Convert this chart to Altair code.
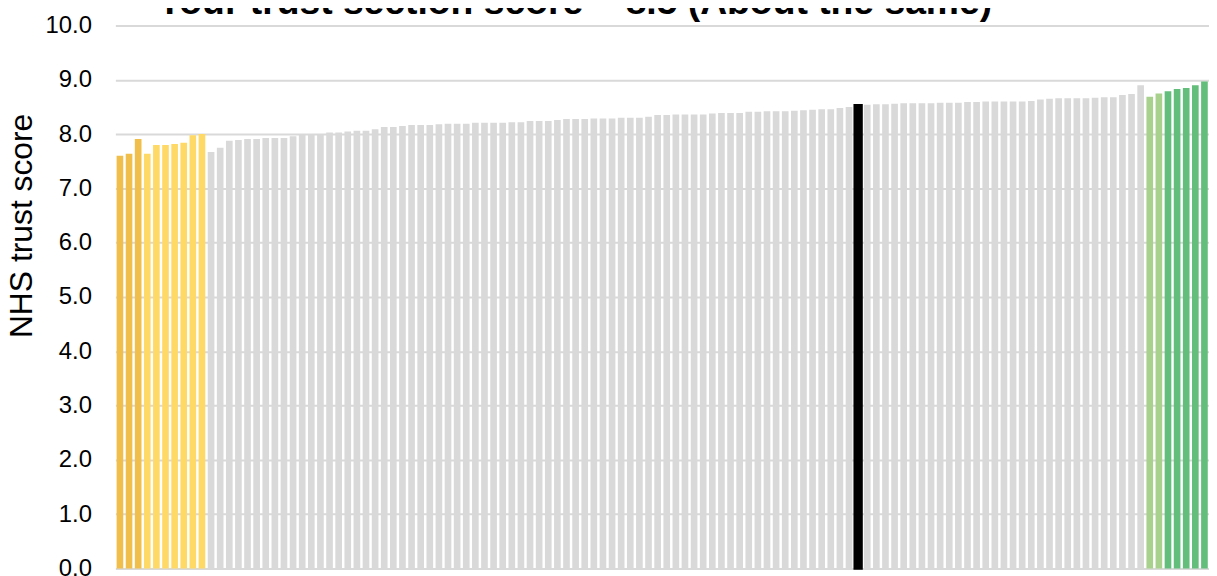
import altair as alt
import pandas as pd

scores = [
    7.60, 7.64, 7.91, 7.64, 7.80, 7.80, 7.82, 7.84, 7.98, 8.00,
    7.67, 7.75, 7.88, 7.89, 7.91, 7.91, 7.93, 7.93, 7.93, 7.96,
    8.00, 8.00, 8.00, 8.03, 8.03, 8.05, 8.06, 8.06, 8.09, 8.13,
    8.13, 8.15, 8.17, 8.17, 8.17, 8.18, 8.19, 8.19, 8.19, 8.21,
    8.21, 8.21, 8.21, 8.22, 8.22, 8.24, 8.24, 8.24, 8.26, 8.28,
    8.28, 8.28, 8.29, 8.29, 8.29, 8.30, 8.30, 8.30, 8.32, 8.35,
    8.35, 8.36, 8.36, 8.36, 8.36, 8.38, 8.39, 8.39, 8.39, 8.41,
    8.41, 8.42, 8.42, 8.42, 8.43, 8.44, 8.45, 8.46, 8.46, 8.48,
    8.50, 8.53, 8.54, 8.55, 8.55, 8.56, 8.57, 8.57, 8.57, 8.57,
    8.58, 8.58, 8.58, 8.59, 8.59, 8.60, 8.60, 8.60, 8.60, 8.60,
    8.61, 8.64, 8.65, 8.66, 8.66, 8.66, 8.66, 8.67, 8.68, 8.68,
    8.72, 8.74, 8.90, 8.69, 8.75, 8.79, 8.83, 8.85, 8.90, 8.97,
]

groups = (
    ["Significantly worse"] * 3
    + ["Somewhat worse"] * 7
    + ["About the same"] * 71
    + ["Your trust"]
    + ["About the same"] * 31
    + ["Somewhat better"] * 2
    + ["Significantly better"] * 5
)

group_names = ["Significantly worse", "Somewhat worse", "About the same",
               "Your trust", "Somewhat better", "Significantly better"]
group_colors = ["#F0BE4B", "#FFD966", "#D9D9D9", "#000000", "#A9D18E", "#63BE7B"]

y_ticks = [0, 1, 2, 3, 4, 5, 6, 7, 8, 9, 10]
title_text = ["Your trust section score = 8.5 (About the same)"]
y_title = "NHS trust score"

df = pd.DataFrame({"idx": list(range(len(scores))), "score": scores, "group": groups})
title_df = pd.DataFrame({"t": title_text})

FONT = "Liberation Sans"

base = alt.Chart(df).encode(
    x=alt.X("idx:O", axis=None,
            scale=alt.Scale(paddingInner=0.27, paddingOuter=0.135)),
    y=alt.Y("score:Q",
            scale=alt.Scale(domain=[0, 10], nice=False),
            axis=alt.Axis(values=y_ticks, format=".1f", title=y_title,
                          grid=True, gridColor="#D9D9D9", gridWidth=2,
                          domain=False, ticks=False,
                          labelFont=FONT, labelFontSize=24, labelColor="#000000",
                          labelPadding=24,
                          titleFont=FONT, titleFontSize=32, titleFontWeight="normal",
                          titleColor="#000000", titleAngle=-90,
                          titleX=-94, titleY=201, titleAlign="center",
                          titleBaseline="middle")),
)

bars = base.mark_bar().encode(
    color=alt.Color("group:N", legend=None,
                    scale=alt.Scale(domain=group_names, range=group_colors))
)

yours = base.transform_filter(alt.datum.group == "Your trust").mark_bar(
    color="#000000", stroke="#000000", strokeWidth=2.7
)

title = alt.Chart(title_df).mark_text(
    font=FONT, fontSize=37.5, fontWeight="bold", color="#000000",
    align="center", baseline="alphabetic"
).encode(x=alt.value(462), y=alt.value(-12), text="t:N")

chart = alt.layer(bars, yours, title).properties(
    width=1100,
    height=546,
    autosize=alt.AutoSizeParams(type="none"),
    padding={"left": 108, "top": 16, "right": 0, "bottom": 6},
).configure_view(stroke=None)

chart.save("out.html", embed_options={"renderer": "svg", "actions": False})
